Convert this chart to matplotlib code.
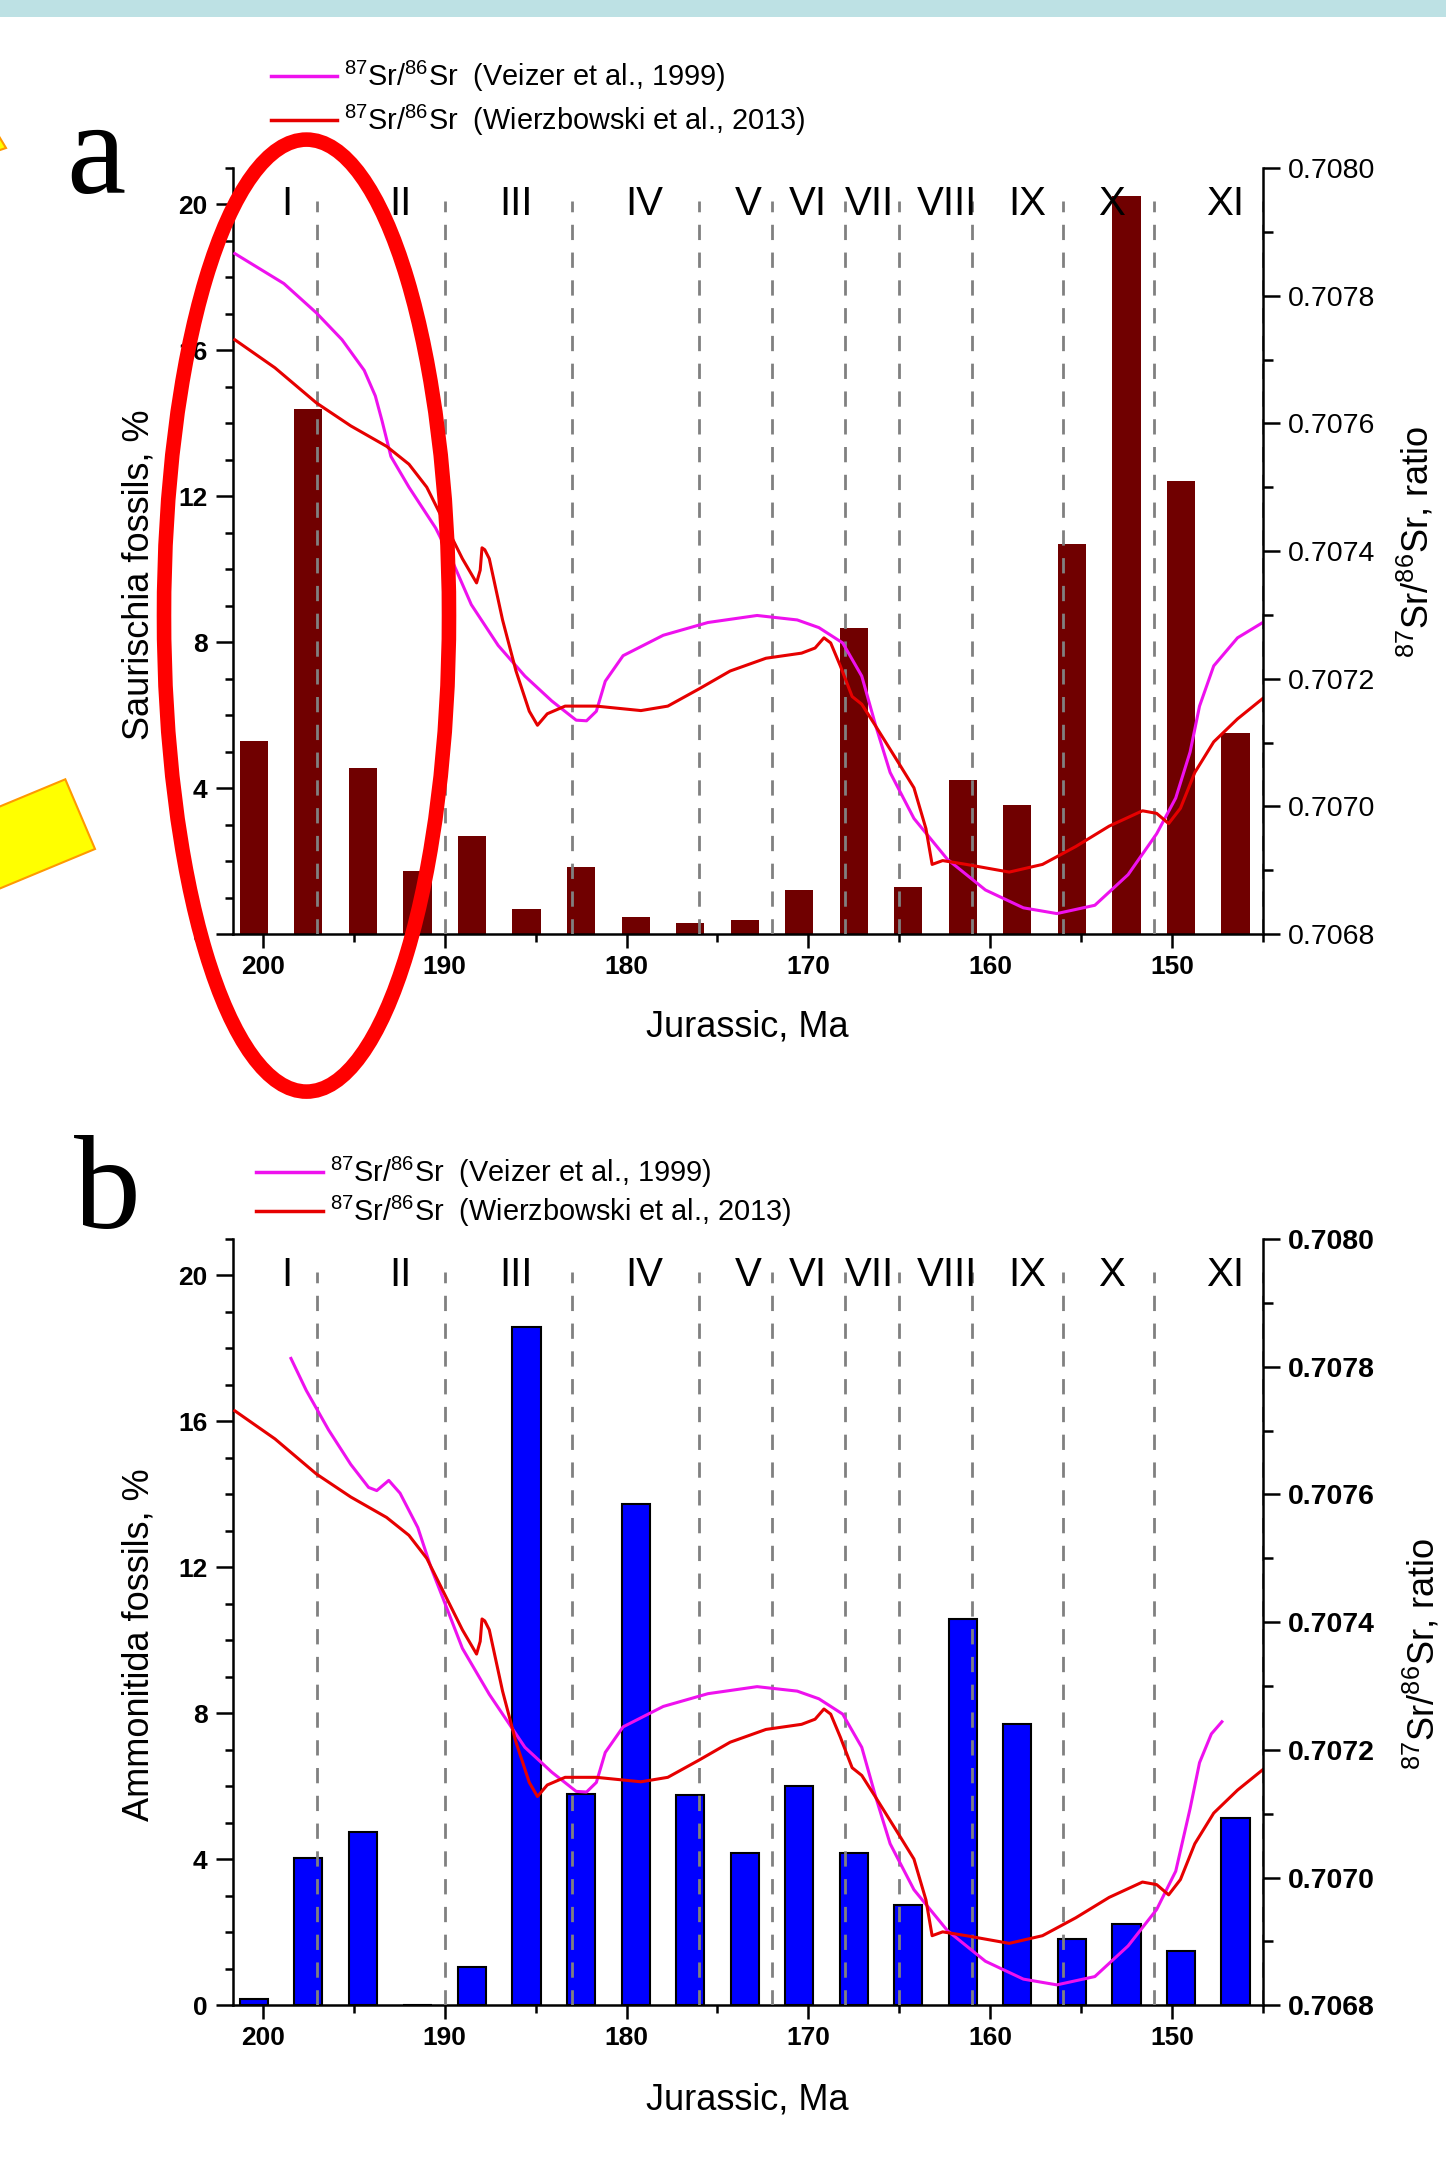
import matplotlib
matplotlib.use('Agg')
import matplotlib.pyplot as plt
from matplotlib.patches import Ellipse, Polygon, Rectangle
from matplotlib.lines import Line2D
from matplotlib.ticker import MultipleLocator, FormatStrFormatter

plt.rcParams['font.family'] = ['Liberation Sans', 'DejaVu Sans']
plt.rcParams['mathtext.fontset'] = 'custom'
plt.rcParams['mathtext.rm'] = 'Liberation Sans'
plt.rcParams['mathtext.it'] = 'Liberation Sans:italic'
plt.rcParams['mathtext.bf'] = 'Liberation Sans:bold'
plt.rcParams['mathtext.default'] = 'regular'

W, H = 1446, 2158

# ---- data ----
bar_ages = [200.5, 197.5, 194.5, 191.5, 188.5, 185.5, 182.5, 179.5, 176.5, 173.5,
            170.5, 167.5, 164.5, 161.5, 158.5, 155.5, 152.5, 149.5, 146.5]
saurischia = [5.30, 14.38, 4.56, 1.73, 2.69, 0.69, 1.85, 0.47, 0.30, 0.39,
              1.21, 8.38, 1.28, 4.23, 3.53, 10.70, 20.22, 12.41, 5.50]
ammonitida = [0.16, 4.05, 4.74, 0.0, 1.05, 18.59, 5.80, 13.73, 5.77, 4.18,
              6.00, 4.16, 2.76, 10.60, 7.70, 1.81, 2.23, 1.48, 5.12]

stage_bounds = [197, 190, 183, 176, 172, 168, 165, 161, 156, 151, 145]
stage_names = ['I', 'II', 'III', 'IV', 'V', 'VI', 'VII', 'VIII', 'IX', 'X', 'XI']
stage_pos = [198.7, 192.45, 186.1, 179.0, 173.3, 170.0, 166.65, 162.4, 157.95, 153.3, 147.05]

# Wierzbowski et al., 2013
wier_age = [201.55, 199.34, 197.06, 195.17, 193.20, 191.97, 190.99, 190.01, 189.03, 188.25,
            188.05, 187.95, 187.80, 187.55, 186.82, 186.08, 185.35, 184.90, 184.36, 183.38,
            181.66, 179.21, 177.73, 176.01, 174.30, 172.33, 170.37, 169.63, 169.14, 168.77,
            168.24, 167.59, 167.06, 166.28, 165.23, 164.19, 163.53, 163.19, 162.61, 161.31,
            158.95, 157.12, 155.29, 153.45, 151.62, 150.84, 150.18, 149.53, 148.74, 147.70,
            146.39, 145.00]
wier_sr = [0.707731, 0.707687, 0.707632, 0.707596, 0.707564, 0.707536, 0.707500, 0.707444, 0.707388, 0.707350,
           0.707370, 0.707405, 0.707402, 0.707388, 0.707292, 0.707212, 0.707149, 0.707127, 0.707145, 0.707157,
           0.707157, 0.707150, 0.707157, 0.707184, 0.707212, 0.707232, 0.707240, 0.707248, 0.707264, 0.707256,
           0.707220, 0.707172, 0.707160, 0.707125, 0.707077, 0.707029, 0.706965, 0.706909, 0.706915, 0.706909,
           0.706897, 0.706909, 0.706937, 0.706969, 0.706993, 0.706989, 0.706973, 0.706997, 0.707053, 0.707101,
           0.707137, 0.707169]

# Veizer et al., 1999 (panel a)
veiz_a_age = [201.55, 198.85, 197.06, 195.65, 194.43, 193.82, 193.45, 192.96, 191.97, 190.50,
              189.52, 188.54, 187.06, 185.59, 184.11, 182.77, 182.20, 181.66, 181.17, 180.19,
              177.98, 175.52, 172.82, 170.61, 169.42, 168.11, 167.06, 166.28, 165.50, 164.19,
              162.35, 160.26, 158.17, 156.33, 154.24, 152.41, 150.84, 149.79, 149.00, 148.48,
              147.70, 146.39, 145.00]
veiz_a_sr = [0.707866, 0.707819, 0.707773, 0.707731, 0.707683, 0.707643, 0.707604, 0.707548, 0.707500, 0.707436,
             0.707380, 0.707316, 0.707252, 0.707204, 0.707165, 0.707135, 0.707134, 0.707149, 0.707196, 0.707236,
             0.707268, 0.707288, 0.707299, 0.707292, 0.707280, 0.707256, 0.707204, 0.707125, 0.707053, 0.706981,
             0.706917, 0.706869, 0.706841, 0.706832, 0.706845, 0.706893, 0.706957, 0.707013, 0.707085, 0.707157,
             0.707220, 0.707264, 0.707288]

# Veizer et al., 1999 (panel b)
veiz_b_age = [198.46, 197.62, 196.39, 195.17, 194.19, 193.74, 193.08, 192.46, 191.48, 190.75,
              190.01, 189.03, 187.55, 185.59, 184.11, 182.77, 182.20, 181.66, 181.17, 180.19,
              177.98, 175.52, 172.82, 170.61, 169.42, 168.11, 167.06, 166.28, 165.50, 164.19,
              162.35, 160.26, 158.17, 156.33, 154.24, 152.41, 150.84, 149.79, 149.00, 148.48,
              147.83, 147.25]
veiz_b_sr = [0.707813, 0.707763, 0.707701, 0.707647, 0.707611, 0.707606, 0.707622, 0.707602, 0.707548, 0.707485,
             0.707431, 0.707359, 0.707287, 0.707204, 0.707165, 0.707135, 0.707134, 0.707149, 0.707196, 0.707236,
             0.707268, 0.707288, 0.707299, 0.707292, 0.707280, 0.707256, 0.707204, 0.707125, 0.707053, 0.706981,
             0.706917, 0.706869, 0.706841, 0.706832, 0.706845, 0.706893, 0.706950, 0.707010, 0.707108, 0.707180,
             0.707225, 0.707244]

MAGENTA = '#ee11ee'
RED = '#e60000'
SR_LABEL = '$^{87}$Sr/$^{86}$Sr'


def fx(x):
    return x / W


def fy(y):
    return 1 - y / H


def draw_panel(fig, rect, bars, bar_color, bar_edge, bar_lw, veiz_age, veiz_sr, right_bold):
    ax = fig.add_axes(rect)
    ax.bar(bar_ages, bars, width=1.55, color=bar_color, edgecolor=bar_edge,
           linewidth=bar_lw, zorder=2)
    ax.vlines(stage_bounds, 0, 20.1, colors='#808080', linewidth=2,
              linestyles=(0, (5.5, 4.5)), zorder=3)
    for name, pos in zip(stage_names, stage_pos):
        ax.text(pos, 20.0, name, ha='center', va='center', fontsize=29, zorder=4)

    ax.set_xlim(201.67, 145.0)
    ax.set_ylim(0, 21)
    ax.xaxis.set_major_locator(MultipleLocator(10))
    ax.xaxis.set_minor_locator(MultipleLocator(5))
    ax.yaxis.set_major_locator(MultipleLocator(4))
    ax.yaxis.set_minor_locator(MultipleLocator(1))
    for s in ['top', 'right']:
        ax.spines[s].set_visible(False)
    for s in ['left', 'bottom']:
        ax.spines[s].set_linewidth(1.8)
    ax.tick_params(axis='y', which='major', length=12, width=1.8, labelsize=19, pad=6)
    ax.tick_params(axis='y', which='minor', length=6, width=1.8)
    ax.tick_params(axis='x', which='major', length=10, width=1.8, labelsize=19, pad=5)
    ax.tick_params(axis='x', which='minor', length=6, width=1.8)
    for lab in ax.get_xticklabels() + ax.get_yticklabels():
        lab.set_fontweight('bold')

    ax2 = ax.twinx()
    ax2.plot(veiz_age, veiz_sr, color=MAGENTA, lw=2.2)
    ax2.plot(wier_age, wier_sr, color=RED, lw=2.2)
    ax2.set_ylim(0.7068, 0.7080)
    ax2.set_xlim(201.67, 145.0)
    for s in ['top', 'left', 'bottom']:
        ax2.spines[s].set_visible(False)
    ax2.spines['right'].set_linewidth(1.8)
    ax2.yaxis.set_major_locator(MultipleLocator(0.0002))
    ax2.yaxis.set_minor_locator(MultipleLocator(0.0001))
    ax2.yaxis.set_major_formatter(FormatStrFormatter('%.4f'))
    ax2.tick_params(axis='y', which='major', length=12, width=1.8, labelsize=20.5, pad=6)
    ax2.tick_params(axis='y', which='minor', length=7, width=1.8)
    if right_bold:
        for lab in ax2.get_yticklabels():
            lab.set_fontweight('bold')
    return ax, ax2


fig = plt.figure(figsize=(W / 100, H / 100), dpi=100)
fig.patch.set_facecolor('white')

# top band
fig.add_artist(Rectangle((0, fy(17)), 1, 17 / H, transform=fig.transFigure,
                         facecolor='#bde1e4', edgecolor='none', zorder=0))

# panel a
draw_panel(fig, [fx(232.6), fy(934), 1030.2 / W, 766 / H], saurischia,
           '#700000', '#700000', 0, veiz_a_age, veiz_a_sr, False)
# panel b
draw_panel(fig, [fx(232.6), fy(2005.3), 1030.2 / W, 766.3 / H], ammonitida,
           '#0000ff', 'black', 1.5, veiz_b_age, veiz_b_sr, True)

# axis labels
fig.text(fx(139), fy(575), 'Saurischia fossils, %', rotation=90, ha='center', va='center', fontsize=26)
fig.text(fx(139), fy(1645), 'Ammonitida fossils, %', rotation=90, ha='center', va='center', fontsize=26)
fig.text(fx(1416), fy(542), SR_LABEL + ', ratio', rotation=90, ha='center', va='center', fontsize=26)
fig.text(fx(1422), fy(1654), SR_LABEL + ', ratio', rotation=90, ha='center', va='center', fontsize=26)
fig.text(fx(747), fy(1027), 'Jurassic, Ma', ha='center', va='center', fontsize=26)
fig.text(fx(747), fy(2100), 'Jurassic, Ma', ha='center', va='center', fontsize=26)

# legends
for (x0, x1, xt, ym, yr) in [(271, 337, 344, 76, 120), (256, 323, 330, 1172, 1211)]:
    fig.add_artist(Line2D([fx(x0), fx(x1)], [fy(ym)] * 2, color=MAGENTA, lw=2.5))
    fig.add_artist(Line2D([fx(x0), fx(x1)], [fy(yr)] * 2, color=RED, lw=2.5))
    fig.text(fx(xt), fy(ym), SR_LABEL + '  (Veizer et al., 1999)', ha='left', va='center', fontsize=20.8)
    fig.text(fx(xt), fy(yr), SR_LABEL + '  (Wierzbowski et al., 2013)', ha='left', va='center', fontsize=20.8)

# panel letters
fig.text(fx(66), fy(193), 'a', family='Liberation Serif', fontsize=96, ha='left', va='baseline')
fig.text(fx(74), fy(1228), 'b', family='Liberation Serif', fontsize=96, ha='left', va='baseline')

# slide decorations
fig.add_artist(Ellipse((fx(306.5), fy(615.6)), 285 / W, 952 / H, transform=fig.transFigure,
                       fill=False, edgecolor='#ff0000', linewidth=10.5, zorder=10))
rect_pts = [(65.3, 779.3), (95, 849), (-182, 964), (-211.7, 894.3)]
fig.add_artist(Polygon([(fx(x), fy(y)) for x, y in rect_pts], closed=True,
                       transform=fig.transFigure, facecolor='#ffff00',
                       edgecolor='#ff9900', linewidth=1.5, zorder=10))
tri_pts = [(-3, 133), (6, 148), (-3, 151)]
fig.add_artist(Polygon([(fx(x), fy(y)) for x, y in tri_pts], closed=True,
                       transform=fig.transFigure, facecolor='#ffff00',
                       edgecolor='#ff9900', linewidth=1.5, zorder=10))

fig.savefig('out.png', dpi=100)
